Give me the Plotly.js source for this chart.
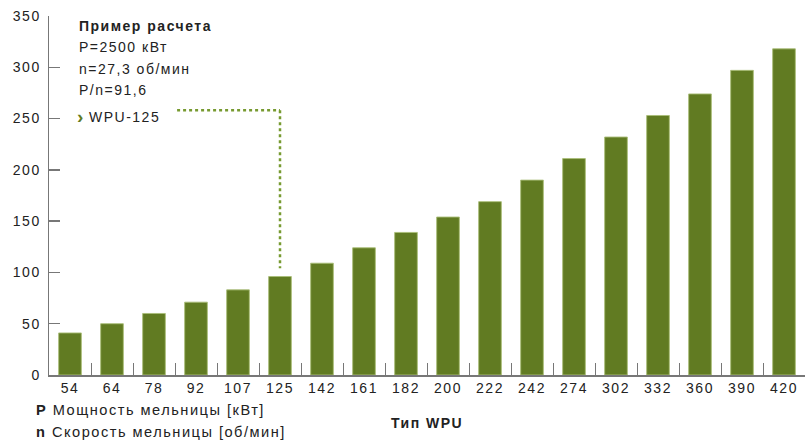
<!DOCTYPE html>
<html>
<head>
<meta charset="utf-8">
<script src="https://cdn.plot.ly/plotly-3.0.1.min.js"></script>
<style>
html,body{margin:0;padding:0;background:#fff;}
#chart{width:808px;height:441px;}
text, tspan{letter-spacing:1.5px;}
</style>
</head>
<body>
<div id="chart"></div>
<script>
const categories = ['54','64','78','92','107','125','142','161','182','200','222','242','274','302','332','360','390','420'];
const values = [41, 50, 60, 71, 83, 96, 109, 124, 139, 154, 169, 190, 211, 232, 253, 274, 297, 318];
const yTicks = [0, 50, 100, 150, 200, 250, 300, 350];
const infoTitle = 'Пример расчета';
const infoLines = ['P=2500 кВт', 'n=27,3 об/мин', 'P/n=91,6'];
const pointer = 'WPU-125';
const pointerCat = '125';
const xTitle = 'Тип WPU';
const notes = [['P', 'Мощность мельницы [кВт]'], ['n', 'Скорость мельницы [об/мин]']];

const font = 'Liberation Sans, Arial, sans-serif';
const txt = '#222';
const green = '#617b22';
const dotGreen = '#779a30';

// plot area pixels: x 49..805, y 16..375
const L = 49, R = 805, T = 16, B = 375;
const px = x => (x - L) / (R - L);
const py = y => (B - y) / (B - T);

const annotations = [];
annotations.push({xref:'paper', yref:'paper', x:px(77), y:py(26), xanchor:'left', yanchor:'middle',
  text:'<b>' + infoTitle + '</b>', showarrow:false, font:{family:font, size:14, color:txt}});
infoLines.forEach((t, i) => {
  annotations.push({xref:'paper', yref:'paper', x:px(77), y:py(47 + i * 21.5), xanchor:'left', yanchor:'middle',
    text:t, showarrow:false, font:{family:font, size:14, color:txt}});
});
annotations.push({xref:'paper', yref:'paper', x:px(75), y:py(116), xanchor:'left', yanchor:'middle',
  text:'<b>›</b>', showarrow:false, font:{family:font, size:19, color:green}});
annotations.push({xref:'paper', yref:'paper', x:px(87), y:py(117), xanchor:'left', yanchor:'middle',
  text:pointer, showarrow:false, font:{family:font, size:14, color:txt}});
notes.forEach((n, i) => {
  annotations.push({xref:'paper', yref:'paper', x:px(34), y:py(410 + i * 22), xanchor:'left', yanchor:'middle',
    text:'<b>' + n[0] + '</b> ' + n[1], showarrow:false, font:{family:font, size:14.6, color:txt}});
});
annotations.push({xref:'paper', yref:'paper', x:px(427), y:py(423), xanchor:'center', yanchor:'middle',
  text:'<b>' + xTitle + '</b>', showarrow:false, font:{family:font, size:14, color:txt}});

const idx = categories.indexOf(pointerCat);
const topY = 258;
const shapes = [
  {type:'line', xref:'x', yref:'y', x0:2.55, x1:idx, y0:topY, y1:topY, line:{color:dotGreen, width:2.5, dash:'dot'}},
  {type:'line', xref:'x', yref:'y', x0:idx, x1:idx, y0:topY, y1:values[idx] + 8, line:{color:dotGreen, width:2.5, dash:'dot'}}
];

const data = [{
  type:'bar', x:categories, y:values,
  marker:{color:green, line:{color:'rgba(170,190,120,0.9)', width:1}},
  width:0.54, hoverinfo:'skip'
}];

const layout = {
  width:808, height:441,
  margin:{l:L, r:808 - R, t:T, b:441 - B},
  paper_bgcolor:'#fff', plot_bgcolor:'#fff',
  showlegend:false,
  font:{family:font, size:14, color:txt},
  xaxis:{type:'category', range:[-0.5, 17.5], showline:true, linecolor:'#777', linewidth:1.5,
    ticks:'inside', tickson:'boundaries', ticklen:12, tickcolor:'#777', tickwidth:1,
    showgrid:false, zeroline:false, tickfont:{family:font, size:14, color:txt}},
  yaxis:{range:[0, 350], tickvals:yTicks, showline:true, linecolor:'#777', linewidth:1.5,
    ticks:'inside', ticklen:11, tickcolor:'#777', tickwidth:1.5,
    showgrid:false, zeroline:false, tickfont:{family:font, size:14, color:txt}, ticklabelstandoff:4},
  annotations:annotations,
  shapes:shapes
};

Plotly.newPlot('chart', data, layout, {displayModeBar:false, staticPlot:true});
</script>
</body>
</html>
